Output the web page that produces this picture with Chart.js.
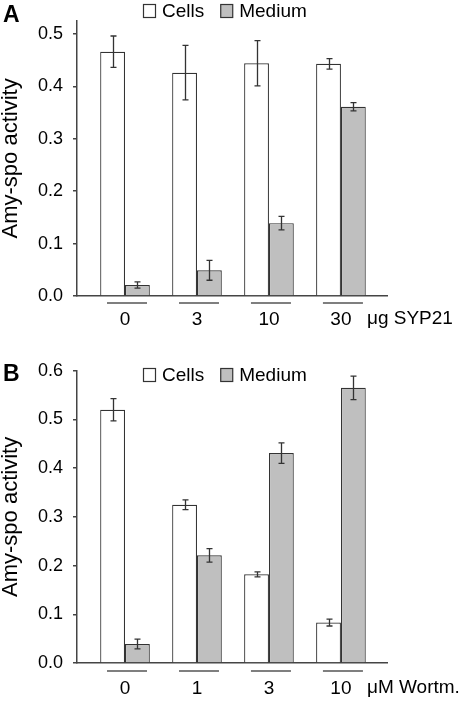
<!DOCTYPE html>
<html>
<head>
<meta charset="utf-8">
<script src="https://cdn.jsdelivr.net/npm/chart.js@4.4.1/dist/chart.umd.min.js"></script>
<style>
  body { margin: 0; background: #fff; }
  #wrap { position: relative; width: 465px; height: 701px; overflow: hidden; }
  .panel { position: absolute; left: 0; width: 465px; }
  .tag { position: absolute; left: 3px; font: bold 23px Arial, "Liberation Sans", sans-serif; line-height: 1; color: #000; }
</style>
</head>
<body>
<div id="wrap">
  <div class="panel" style="top:0;height:350px"><canvas id="chartA" width="465" height="350"></canvas></div>
  <div class="panel" style="top:350px;height:351px"><canvas id="chartB" width="465" height="351"></canvas></div>
  <div class="tag" style="top:3px">A</div>
  <div class="tag" style="top:362px">B</div>
</div>
<script>
"use strict"

const FONT = "Arial, 'Liberation Sans', Helvetica, sans-serif";

// panel A - SYP21 antibody
const doseA = ['0', '3', '10', '30'];
const unitA = 'μg SYP21';
const cellsA = [0.466, 0.426, 0.444, 0.443];
const cellsErrA = [0.030, 0.052, 0.043, 0.010];
const mediumA = [0.021, 0.049, 0.139, 0.361];
const mediumErrA = [0.006, 0.019, 0.013, 0.008];
const ticksA = [0.0, 0.1, 0.2, 0.3, 0.4, 0.5];

// panel B - wortmannin
const doseB = ['0', '1', '3', '10'];
const unitB = 'μM Wortm.';
const cellsB = [0.520, 0.325, 0.182, 0.083];
const cellsErrB = [0.023, 0.010, 0.005, 0.007];
const mediumB = [0.039, 0.221, 0.431, 0.565];
const mediumErrB = [0.010, 0.014, 0.021, 0.024];
const ticksB = [0.0, 0.1, 0.2, 0.3, 0.4, 0.5, 0.6];

// error bars, legend row inside the plot, group underlines, unit text
const extras = {
  id: 'extras',
  afterDatasetsDraw(chart) {
    const ctx = chart.ctx;
    const y = chart.scales.y;
    ctx.save();
    ctx.strokeStyle = '#333';
    ctx.lineWidth = 1.3;
    chart.data.datasets.forEach((ds, di) => {
      chart.getDatasetMeta(di).data.forEach((bar, i) => {
        const v = ds.data[i].y, e = ds.errors[i];
        const top = y.getPixelForValue(v + e);
        const bot = y.getPixelForValue(v - e);
        const cx = Math.round(bar.x) + 0.5;
        ctx.beginPath();
        ctx.moveTo(cx, top); ctx.lineTo(cx, bot);
        ctx.moveTo(cx - 3, top); ctx.lineTo(cx + 3, top);
        ctx.moveTo(cx - 3, bot); ctx.lineTo(cx + 3, bot);
        ctx.stroke();
      });
    });
    ctx.restore();
  },
  afterDraw(chart, args, opts) {
    const ctx = chart.ctx;
    const x = chart.scales.x;
    const base = chart.scales.y.getPixelForValue(0);
    ctx.save();

    // underline under each group
    ctx.strokeStyle = '#555';
    ctx.lineWidth = 1.5;
    x.ticks.forEach(t => {
      const px = x.getPixelForValue(t.value) + 2;
      ctx.beginPath();
      ctx.moveTo(px - 20, base + opts.lineGap);
      ctx.lineTo(px + 20, base + opts.lineGap);
      ctx.stroke();
    });

    // unit after the last dose
    const last = x.getPixelForValue(x.ticks[x.ticks.length - 1].value);
    ctx.fillStyle = '#000';
    ctx.font = '19px ' + FONT;
    ctx.textAlign = 'left';
    ctx.textBaseline = 'middle';
    ctx.fillText(opts.unit, last + 26, base + opts.unitGap);

    // legend in one row over the bars
    const items = Chart.defaults.plugins.legend.labels.generateLabels(chart);
    ctx.font = '19px ' + FONT;
    let lx = opts.legendLeft;
    const ly = opts.legendTop;
    items.forEach(it => {
      ctx.fillStyle = it.fillStyle;
      ctx.strokeStyle = it.strokeStyle;
      ctx.lineWidth = 1.2;
      ctx.fillRect(lx + 0.5, ly + 0.5, 12, 13);
      ctx.strokeRect(lx + 0.5, ly + 0.5, 12, 13);
      ctx.fillStyle = '#000';
      ctx.fillText(it.text, lx + 19, ly + 7.5);
      lx += 19 + ctx.measureText(it.text).width + 16;
    });
    ctx.restore();
  }
};

function makeChart(id, p) {
  const data = {
    datasets: [{
      label: 'Cells',
      data: p.cells.map((v, i) => ({x: i, y: v})),
      errors: p.cellsErr,
      backgroundColor: '#ffffff',
      borderColor: '#333',
      borderWidth: 1.2
    }, {
      label: 'Medium',
      data: p.medium.map((v, i) => ({x: i, y: v})),
      errors: p.mediumErr,
      backgroundColor: '#bfbfbf',
      borderColor: '#333',
      borderWidth: 1.2
    }]
  };

  const config = {
    type: 'bar',
    data,
    plugins: [extras],
    options: {
      responsive: false,
      animation: false,
      events: [],
      categoryPercentage: 0.69,
      barPercentage: 1.0,
      layout: { padding: { top: p.top, right: 78, bottom: 0, left: 0 } },
      plugins: {
        tooltip: { enabled: false },
        legend: { display: false },
        extras: { legendLeft: 143, legendTop: p.legendTop, lineGap: p.lineGap, unitGap: p.unitGap, unit: p.unit }
      },
      scales: {
        x: {
          type: 'linear',
          offset: false,
          min: -0.667,
          max: 3.64,
          afterBuildTicks: (s) => { s.ticks = p.doses.map((d, i) => ({value: i})); },
          afterFit: (s) => { s.height = p.xHeight; },
          grid: { display: true, drawOnChartArea: false, drawTicks: false },
          border: { display: true, color: '#444', width: 1.5 },
          ticks: {
            autoSkip: false,
            maxRotation: 0,
            padding: p.xPad,
            color: '#000',
            font: { family: FONT, size: 19 },
            callback: (v, i) => p.doses[i]
          }
        },
        y: {
          min: 0,
          max: p.yMax,
          afterBuildTicks: (s) => { s.ticks = p.yTicks.map(v => ({value: v})); },
          afterFit: (s) => { s.width = 77; },
          grid: { display: true, drawOnChartArea: false, drawTicks: true, tickLength: 4, color: '#444', lineWidth: 1.5 },
          border: { display: true, color: '#444', width: 1.5 },
          ticks: {
            padding: 10,
            color: '#000',
            font: { family: FONT, size: 18 },
            callback: (v) => v.toFixed(1)
          },
          title: {
            display: true,
            text: 'Amy-spo activity',
            color: '#000',
            padding: 0,
            font: { family: FONT, size: 22, lineHeight: 1.0 }
          }
        }
      }
    }
  };

  return new Chart(document.getElementById(id), config);
}

const chartA = makeChart('chartA', {
  doses: doseA, unit: unitA,
  cells: cellsA, cellsErr: cellsErrA,
  medium: mediumA, mediumErr: mediumErrA,
  yTicks: ticksA, yMax: 0.525,
  top: 2, xHeight: 54, xPad: 12, lineGap: 7, unitGap: 23, legendTop: 4
});

const chartB = makeChart('chartB', {
  doses: doseB, unit: unitB,
  cells: cellsB, cellsErr: cellsErrB,
  medium: mediumB, mediumErr: mediumErrB,
  yTicks: ticksB, yMax: 0.6,
  top: 18, xHeight: 38, xPad: 14, lineGap: 8, unitGap: 25, legendTop: 18
});
</script>
</body>
</html>
